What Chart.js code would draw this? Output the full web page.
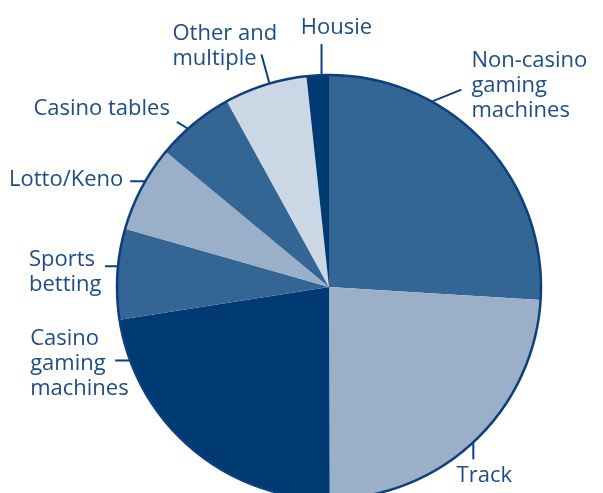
<!DOCTYPE html>
<html>
<head>
<meta charset="utf-8">
<script src="https://cdn.jsdelivr.net/npm/chart.js@4.4.1/dist/chart.umd.min.js"></script>
<style>
  html, body { margin: 0; padding: 0; background: #fff; overflow: hidden; }
  #wrap { position: relative; width: 603px; height: 574px; }
</style>
</head>
<body>
<div id="wrap"><canvas id="pie"></canvas></div>
<script>
// Gambling expenditure share by product (%)
const categories = [
  ['Non-casino', 'gaming', 'machines'],
  ['Track'],
  ['Casino', 'gaming', 'machines'],
  ['Sports', 'betting'],
  ['Lotto/Keno'],
  ['Casino tables'],
  ['Other and', 'multiple'],
  ['Housie']
];
const shares = [26.0, 24.0, 22.6, 6.9, 6.6, 6.0, 6.3, 1.7];
const sliceColors = ['#336595', '#9bb0c8', '#003a73', '#336595', '#9bb0c8', '#336595', '#cbd7e4', '#003a73'];

// Leader line + text placement for each slice label.
// t: where on the slice edge the leader starts (0..1 along the arc)
// dir/len: leader direction (degrees, canvas) and length
// dx/dy: text anchor offset from the leader end (dy is to the first baseline)
const labelLayout = [
  { t: 0.31, dir: -22,   len: 32, dx: 10,  dy: -23, align: 'left' },
  { t: 0.505, dir: 90,   len: 17, dx: 11,  dy: 23,  align: 'center' },
  { t: 0.86, dir: 180,   len: 15, dx: -85, dy: -15, align: 'left' },
  { t: 0.585, dir: 180,  len: 13, dx: -76, dy: 0,   align: 'left' },
  { t: 0.59, dir: 180,   len: 15, dx: -7,  dy: 5,   align: 'right' },
  { t: 0.40, dir: 212,   len: 13, dx: -7,  dy: -7,  align: 'right' },
  { t: 0.55, dir: 254.6, len: 30, dx: -89, dy: -15, align: 'left' },
  { t: 0.67, dir: -90,   len: 31, dx: 15,  dy: -10, align: 'center' }
];

const TEXT_COLOR = '#1d4c86';
const LINE_COLOR = '#0b3f7d';
const LINE_HEIGHT = 25;

const sliceLabels = {
  id: 'sliceLabels',
  afterDatasetsDraw(chart) {
    const ctx = chart.ctx;
    const arcs = chart.getDatasetMeta(0).data;
    if (!arcs.length) return;

    // dark rim around the whole pie
    const first = arcs[0];
    ctx.save();
    ctx.beginPath();
    ctx.arc(first.x, first.y, first.outerRadius, 0, Math.PI * 2);
    ctx.strokeStyle = LINE_COLOR;
    ctx.lineWidth = 2.5;
    ctx.stroke();

    ctx.font = '22px "Open Sans", sans-serif';
    ctx.fillStyle = TEXT_COLOR;
    ctx.textBaseline = 'alphabetic';

    arcs.forEach((arc, i) => {
      const lay = labelLayout[i];
      const a = arc.startAngle + lay.t * (arc.endAngle - arc.startAngle);
      const px = arc.x + arc.outerRadius * Math.cos(a);
      const py = arc.y + arc.outerRadius * Math.sin(a);
      const d = lay.dir * Math.PI / 180;
      const ex = px + lay.len * Math.cos(d);
      const ey = py + lay.len * Math.sin(d);

      ctx.beginPath();
      ctx.moveTo(px, py);
      ctx.lineTo(ex, ey);
      ctx.strokeStyle = LINE_COLOR;
      ctx.lineWidth = 2;
      ctx.stroke();

      ctx.textAlign = lay.align;
      categories[i].forEach((line, k) => {
        ctx.fillText(line, ex + lay.dx, ey + lay.dy + k * LINE_HEIGHT);
      });
    });
    ctx.restore();
  }
};

new Chart(document.getElementById('pie'), {
  type: 'pie',
  data: {
    labels: categories.map(c => c.join(' ')),
    datasets: [{
      data: shares,
      backgroundColor: sliceColors,
      borderWidth: 0
    }]
  },
  options: {
    responsive: true,
    maintainAspectRatio: false,
    animation: false,
    radius: 212,
    layout: { padding: { left: 55, right: 0, top: 0, bottom: 0 } },
    plugins: {
      legend: { display: false },
      tooltip: { enabled: false }
    }
  },
  plugins: [sliceLabels]
});
</script>
</body>
</html>
